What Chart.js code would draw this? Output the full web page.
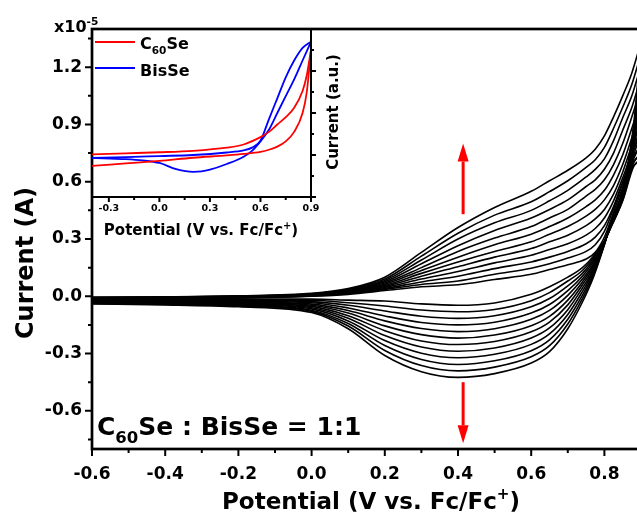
<!DOCTYPE html>
<html><head><meta charset="utf-8">
<script src="https://cdn.jsdelivr.net/npm/chart.js@4/dist/chart.umd.min.js"></script>
<style>
html,body{margin:0;padding:0;background:#fff;overflow:hidden;width:637px;height:515px;}
#wrap{position:relative;width:637px;height:515px;overflow:hidden;background:#fff;}
#main,#inset{position:absolute;left:0;top:0;}
</style></head><body>
<div id="wrap"><canvas id="main" width="700" height="515"></canvas><canvas id="inset" width="360" height="250"></canvas></div>
<script>
// ---------------- MAIN CHART DATA (current in units of 1e-5 A) ----------------
const xTickValues = [-0.6, -0.4, -0.2, 0.0, 0.2, 0.4, 0.6, 0.8];
const xMinorTicks = [-0.5, -0.3, -0.1, 0.1, 0.3, 0.5, 0.7, 0.9];
const yTickValues = [-0.6, -0.3, 0.0, 0.3, 0.6, 0.9, 1.2];
const yMinorTicks = [-0.75, -0.45, -0.15, 0.15, 0.45, 0.75, 1.05, 1.35];

// forward (anodic) scans, potentials
const fwdPotential = [-0.6, -0.4, -0.2, 0.0, 0.1, 0.2, 0.3, 0.4, 0.5, 0.6, 0.65, 0.7, 0.75, 0.775, 0.8, 0.825, 0.85, 0.875, 0.9];
const fwd01 = [-0.016, -0.014, -0.009, 0.0, 0.01, 0.03, 0.05, 0.06, 0.088, 0.115, 0.14, 0.165, 0.195, 0.23, 0.31, 0.44, 0.57, 0.67, 0.72];
const fwd02 = [-0.015, -0.013, -0.008, 0.002, 0.013, 0.036, 0.062, 0.08, 0.115, 0.147, 0.17, 0.2, 0.235, 0.27, 0.34, 0.46, 0.59, 0.69, 0.75];
const fwd03 = [-0.014, -0.012, -0.007, 0.003, 0.015, 0.041, 0.075, 0.105, 0.145, 0.18, 0.205, 0.235, 0.275, 0.31, 0.37, 0.47, 0.60, 0.72, 0.79];
const fwd04 = [-0.013, -0.011, -0.006, 0.005, 0.018, 0.046, 0.09, 0.13, 0.175, 0.215, 0.245, 0.275, 0.32, 0.355, 0.41, 0.50, 0.62, 0.75, 0.85];
const fwd05 = [-0.012, -0.01, -0.005, 0.007, 0.02, 0.051, 0.105, 0.155, 0.205, 0.25, 0.285, 0.32, 0.37, 0.405, 0.455, 0.535, 0.65, 0.79, 0.91];
const fwd06 = [-0.011, -0.009, -0.004, 0.008, 0.023, 0.057, 0.12, 0.18, 0.235, 0.285, 0.325, 0.365, 0.42, 0.455, 0.505, 0.58, 0.69, 0.83, 0.97];
const fwd07 = [-0.01, -0.008, -0.003, 0.009, 0.025, 0.063, 0.135, 0.205, 0.27, 0.325, 0.365, 0.41, 0.47, 0.505, 0.555, 0.635, 0.74, 0.88, 1.03];
const fwd08 = [-0.009, -0.007, -0.002, 0.01, 0.028, 0.07, 0.15, 0.235, 0.305, 0.365, 0.41, 0.455, 0.525, 0.56, 0.61, 0.69, 0.80, 0.94, 1.09];
const fwd09 = [-0.008, -0.006, -0.001, 0.011, 0.03, 0.076, 0.17, 0.265, 0.345, 0.41, 0.455, 0.505, 0.575, 0.61, 0.665, 0.75, 0.87, 0.99, 1.15];
const fwd10 = [-0.007, -0.005, 0.0, 0.012, 0.033, 0.083, 0.19, 0.30, 0.385, 0.45, 0.50, 0.555, 0.625, 0.665, 0.72, 0.815, 0.935, 1.05, 1.21];
const fwd11 = [-0.006, -0.004, 0.001, 0.013, 0.036, 0.09, 0.21, 0.33, 0.425, 0.495, 0.548, 0.605, 0.675, 0.715, 0.78, 0.88, 0.99, 1.11, 1.27];
const fwd12 = [-0.005, -0.003, 0.002, 0.015, 0.04, 0.10, 0.23, 0.36, 0.465, 0.55, 0.605, 0.66, 0.725, 0.77, 0.84, 0.94, 1.05, 1.17, 1.33];

// reverse (cathodic) scans, potentials (listed low to high)
const revPotential = [-0.6, -0.4, -0.2, 0.0, 0.1, 0.2, 0.3, 0.4, 0.5, 0.6, 0.65, 0.7, 0.74, 0.77, 0.8, 0.82, 0.85, 0.88, 0.9];
const rev01 = [-0.02, -0.018, -0.015, -0.015, -0.02, -0.025, -0.04, -0.047, -0.035, 0.01, 0.05, 0.10, 0.15, 0.21, 0.29, 0.37, 0.50, 0.68, 0.72];
const rev02 = [-0.022, -0.02, -0.019, -0.021, -0.034, -0.051, -0.072, -0.081, -0.069, -0.023, 0.019, 0.08, 0.135, 0.2, 0.288, 0.372, 0.505, 0.70, 0.75];
const rev03 = [-0.024, -0.023, -0.022, -0.028, -0.047, -0.077, -0.105, -0.116, -0.102, -0.055, -0.012, 0.055, 0.12, 0.19, 0.286, 0.375, 0.51, 0.72, 0.79];
const rev04 = [-0.025, -0.025, -0.026, -0.034, -0.061, -0.103, -0.137, -0.15, -0.136, -0.088, -0.043, 0.03, 0.105, 0.18, 0.285, 0.378, 0.515, 0.74, 0.85];
const rev05 = [-0.027, -0.028, -0.03, -0.041, -0.075, -0.129, -0.169, -0.185, -0.17, -0.121, -0.074, 0.005, 0.09, 0.17, 0.283, 0.38, 0.52, 0.76, 0.91];
const rev06 = [-0.029, -0.03, -0.033, -0.047, -0.088, -0.155, -0.201, -0.219, -0.203, -0.154, -0.105, -0.02, 0.075, 0.16, 0.281, 0.383, 0.525, 0.78, 0.97];
const rev07 = [-0.031, -0.033, -0.037, -0.053, -0.102, -0.18, -0.234, -0.253, -0.237, -0.186, -0.135, -0.045, 0.06, 0.15, 0.279, 0.386, 0.53, 0.80, 1.03];
const rev08 = [-0.033, -0.035, -0.04, -0.06, -0.115, -0.206, -0.266, -0.288, -0.271, -0.219, -0.166, -0.07, 0.043, 0.14, 0.277, 0.389, 0.535, 0.82, 1.09];
const rev09 = [-0.035, -0.038, -0.044, -0.066, -0.129, -0.232, -0.298, -0.322, -0.304, -0.252, -0.197, -0.095, 0.025, 0.13, 0.276, 0.392, 0.54, 0.84, 1.15];
const rev10 = [-0.036, -0.04, -0.048, -0.073, -0.143, -0.258, -0.331, -0.357, -0.338, -0.285, -0.228, -0.12, 0.006, 0.12, 0.274, 0.395, 0.55, 0.86, 1.21];
const rev11 = [-0.038, -0.043, -0.051, -0.079, -0.156, -0.284, -0.363, -0.391, -0.371, -0.317, -0.259, -0.145, -0.012, 0.11, 0.272, 0.398, 0.555, 0.88, 1.27];
const rev12 = [-0.04, -0.045, -0.055, -0.085, -0.17, -0.31, -0.395, -0.425, -0.405, -0.35, -0.29, -0.17, -0.03, 0.10, 0.27, 0.40, 0.56, 0.90, 1.33];

// red arrows (data coordinates)
const arrowUp = {x: 0.414, from: 0.43, to: 0.80};
const arrowDown = {x: 0.414, from: -0.45, to: -0.77};

// ---------------- INSET DATA ----------------
const insetXTicks = [-0.3, 0.0, 0.3, 0.6, 0.9];
const insetXMinor = [-0.15, 0.15, 0.45, 0.75];
const insetYTicks = [0, 2, 4, 6, 8];
const insetYMinor = [1, 3, 5, 7];
const c60sePotential = [-0.4, -0.2, 0.0, 0.2, 0.4, 0.5, 0.6, 0.65, 0.7, 0.75, 0.8, 0.85, 0.875, 0.9];
const c60seUpper = [2.03, 2.08, 2.13, 2.2, 2.35, 2.5, 2.85, 3.1, 3.45, 3.8, 4.25, 5.05, 5.8, 7.0];
const c60seLower = [1.48, 1.6, 1.72, 1.87, 1.98, 2.05, 2.15, 2.25, 2.4, 2.65, 3.1, 4.0, 5.0, 7.0];
const bisSeOuterPotential = [-0.4, -0.2, 0.0, 0.2, 0.4, 0.5, 0.55, 0.6, 0.65, 0.7, 0.75, 0.8, 0.85, 0.9];
const bisSeOuter = [1.86, 1.9, 1.95, 2.0, 2.12, 2.22, 2.35, 2.68, 3.7, 4.7, 5.7, 6.5, 7.1, 7.4];
const bisSeInnerPotential = [-0.4, -0.2, -0.1, 0.0, 0.1, 0.2, 0.25, 0.3, 0.4, 0.5, 0.55, 0.6, 0.65, 0.7, 0.75, 0.8, 0.85, 0.9];
const bisSeInner = [1.86, 1.8, 1.74, 1.62, 1.33, 1.2, 1.22, 1.3, 1.57, 1.92, 2.2, 2.65, 3.2, 4.0, 4.8, 5.6, 6.5, 7.4];

// ---------------- helpers ----------------
const FAM = "'DejaVu Sans', sans-serif";
function rich(ctx, parts, x, y, size, align) {
  const ss = size * 0.66;
  const widths = parts.map(p => { ctx.font = `bold ${p[1] ? ss : size}px ${FAM}`; return ctx.measureText(p[0]).width; });
  const total = widths.reduce((a, b) => a + b, 0);
  let cx = align === 'center' ? x - total / 2 : x;
  ctx.textAlign = 'left'; ctx.textBaseline = 'alphabetic'; ctx.fillStyle = '#000';
  parts.forEach((p, i) => {
    ctx.font = `bold ${p[1] ? ss : size}px ${FAM}`;
    const dy = p[1] === 1 ? size * 0.32 : (p[1] === 2 ? -size * 0.42 : 0);
    ctx.fillText(p[0], cx, y + dy);
    cx += widths[i];
  });
}
function toPts(px, py) { return px.map((p, i) => ({x: p, y: py[i]})); }
function arrow(ctx, x, y0, y1, color) {
  const dir = y1 < y0 ? -1 : 1;
  const headLen = 18, headW = 5.5;
  ctx.save();
  ctx.strokeStyle = color; ctx.fillStyle = color; ctx.lineWidth = 3;
  ctx.beginPath(); ctx.moveTo(x, y0); ctx.lineTo(x, y1 - dir * headLen); ctx.stroke();
  ctx.beginPath(); ctx.moveTo(x, y1); ctx.lineTo(x - headW, y1 - dir * headLen); ctx.lineTo(x + headW, y1 - dir * headLen); ctx.closePath(); ctx.fill();
  ctx.restore();
}

// ---------------- main chart ----------------
const fwdSets = [fwd01, fwd02, fwd03, fwd04, fwd05, fwd06, fwd07, fwd08, fwd09, fwd10, fwd11, fwd12];
const revSets = [rev01, rev02, rev03, rev04, rev05, rev06, rev07, rev08, rev09, rev10, rev11, rev12];
const mainDatasets = [];
fwdSets.forEach((c, i) => mainDatasets.push({label: 'fwd' + (i + 1), data: toPts(fwdPotential, c)}));
revSets.forEach((c, i) => mainDatasets.push({label: 'rev' + (i + 1), data: toPts(revPotential, c)}));

const mainDeco = {
  id: 'mainDeco',
  afterDraw(chart) {
    const {ctx, chartArea: a, scales: {x, y}} = chart;
    ctx.save();
    ctx.strokeStyle = '#000'; ctx.lineWidth = 2.7;
    ctx.strokeRect(a.left, a.top, a.right - a.left, a.bottom - a.top);
    ctx.lineWidth = 2;
    ctx.beginPath();
    yTickValues.forEach(v => { const p = y.getPixelForValue(v); ctx.moveTo(a.left - 7, p); ctx.lineTo(a.left, p); });
    yMinorTicks.forEach(v => { const p = y.getPixelForValue(v); ctx.moveTo(a.left - 4, p); ctx.lineTo(a.left, p); });
    xTickValues.forEach(v => { const p = x.getPixelForValue(v); ctx.moveTo(p, a.bottom); ctx.lineTo(p, a.bottom + 7); });
    xMinorTicks.forEach(v => { const p = x.getPixelForValue(v); ctx.moveTo(p, a.bottom); ctx.lineTo(p, a.bottom + 4); });
    ctx.stroke();
    arrow(ctx, x.getPixelForValue(arrowUp.x), y.getPixelForValue(arrowUp.from), y.getPixelForValue(arrowUp.to), '#ff0000');
    arrow(ctx, x.getPixelForValue(arrowDown.x), y.getPixelForValue(arrowDown.from), y.getPixelForValue(arrowDown.to), '#ff0000');
    rich(ctx, [['C', 0], ['60', 1], ['Se : BisSe = 1:1', 0]], a.left + 5, a.bottom - 14, 25, 'left');
    rich(ctx, [['Potential (V vs. Fc/Fc', 0], ['+', 2], [')', 0]], 371, 509, 23, 'center');
    rich(ctx, [['x10', 0], ['-5', 2]], 54, 32, 16, 'left');
    ctx.save();
    ctx.translate(33, 263); ctx.rotate(-Math.PI / 2);
    rich(ctx, [['Current (A)', 0]], 0, 0, 24, 'center');
    ctx.restore();
    ctx.restore();
  }
};

new Chart(document.getElementById('main'), {
  type: 'line',
  data: {datasets: mainDatasets},
  options: {
    responsive: false, animation: false, events: [],
    layout: {padding: {left: 0, top: 29, right: 59, bottom: 0}},
    elements: {line: {borderColor: '#000', borderWidth: 1.6, cubicInterpolationMode: 'monotone', fill: false}, point: {radius: 0}},
    plugins: {legend: {display: false}, tooltip: {enabled: false}},
    scales: {
      x: {type: 'linear', min: -0.6, max: 0.9,
        afterFit: s => { s.height = 66; },
        afterBuildTicks: s => { s.ticks = xTickValues.map(v => ({value: v})); },
        grid: {display: false, drawTicks: false}, border: {display: false},
        ticks: {padding: 15, color: '#000', maxRotation: 0, autoSkip: false, font: {family: 'DejaVu Sans', size: 17, weight: 'bold'}, callback: v => Number(v).toFixed(1)}},
      y: {type: 'linear', min: -0.8, max: 1.4,
        afterFit: s => { s.width = 92; },
        afterBuildTicks: s => { s.ticks = yTickValues.map(v => ({value: v})); },
        grid: {display: false, drawTicks: false}, border: {display: false},
        ticks: {padding: 10, color: '#000', autoSkip: false, font: {family: 'DejaVu Sans', size: 17, weight: 'bold'}, callback: v => Number(v).toFixed(1)}}
    }
  },
  plugins: [mainDeco]
});

// ---------------- inset chart ----------------
const insetDeco = {
  id: 'insetDeco',
  afterDraw(chart) {
    const {ctx, chartArea: a, scales: {x, y}} = chart;
    ctx.save();
    ctx.strokeStyle = '#000'; ctx.lineWidth = 2;
    ctx.beginPath();
    ctx.moveTo(a.left, a.bottom); ctx.lineTo(a.right + 1, a.bottom);
    ctx.moveTo(a.right, a.top); ctx.lineTo(a.right, a.bottom);
    insetXTicks.forEach(v => { const p = x.getPixelForValue(v); ctx.moveTo(p, a.bottom); ctx.lineTo(p, a.bottom + 5); });
    insetXMinor.forEach(v => { const p = x.getPixelForValue(v); ctx.moveTo(p, a.bottom); ctx.lineTo(p, a.bottom + 3); });
    insetYTicks.forEach(v => { const p = y.getPixelForValue(v); ctx.moveTo(a.right, p); ctx.lineTo(a.right + 5, p); });
    insetYMinor.forEach(v => { const p = y.getPixelForValue(v); ctx.moveTo(a.right, p); ctx.lineTo(a.right + 3, p); });
    ctx.stroke();
    ctx.lineWidth = 2;
    ctx.strokeStyle = '#ff0000'; ctx.beginPath(); ctx.moveTo(a.left + 3, 42); ctx.lineTo(a.left + 43, 42); ctx.stroke();
    ctx.strokeStyle = '#0000ff'; ctx.beginPath(); ctx.moveTo(a.left + 3, 68); ctx.lineTo(a.left + 43, 68); ctx.stroke();
    rich(ctx, [['C', 0], ['60', 1], ['Se', 0]], a.left + 48, 49, 16, 'left');
    rich(ctx, [['BisSe', 0]], a.left + 48, 76, 16, 'left');
    rich(ctx, [['Potential (V vs. Fc/Fc', 0], ['+', 2], [')', 0]], 201, 235, 15, 'center');
    ctx.save();
    ctx.translate(338, 112); ctx.rotate(-Math.PI / 2);
    rich(ctx, [['Current (a.u.)', 0]], 0, 0, 15, 'center');
    ctx.restore();
    ctx.restore();
  }
};

new Chart(document.getElementById('inset'), {
  type: 'line',
  data: {datasets: [
    {label: 'C60Se upper', data: toPts(c60sePotential, c60seUpper), borderColor: '#ff0000'},
    {label: 'C60Se lower', data: toPts(c60sePotential, c60seLower), borderColor: '#ff0000'},
    {label: 'BisSe outer', data: toPts(bisSeOuterPotential, bisSeOuter), borderColor: '#0000ff'},
    {label: 'BisSe inner', data: toPts(bisSeInnerPotential, bisSeInner), borderColor: '#0000ff'}
  ]},
  options: {
    responsive: false, animation: false, events: [],
    layout: {padding: {left: 92, top: 29, right: 0, bottom: 0}},
    elements: {line: {borderWidth: 1.8, cubicInterpolationMode: 'monotone', fill: false}, point: {radius: 0}},
    plugins: {legend: {display: false}, tooltip: {enabled: false}},
    scales: {
      x: {type: 'linear', min: -0.4, max: 0.9,
        afterFit: s => { s.height = 53; },
        afterBuildTicks: s => { s.ticks = insetXTicks.map(v => ({value: v})); },
        grid: {display: false, drawTicks: false}, border: {display: false},
        ticks: {padding: 6, color: '#000', maxRotation: 0, autoSkip: false, font: {family: 'DejaVu Sans', size: 9.5, weight: 'bold'}, callback: v => Number(v).toFixed(1)}},
      y: {type: 'linear', position: 'right', min: 0, max: 8,
        afterFit: s => { s.width = 49; },
        grid: {display: false, drawTicks: false}, border: {display: false},
        ticks: {display: false}}
    }
  },
  plugins: [insetDeco]
});
</script>
</body></html>
